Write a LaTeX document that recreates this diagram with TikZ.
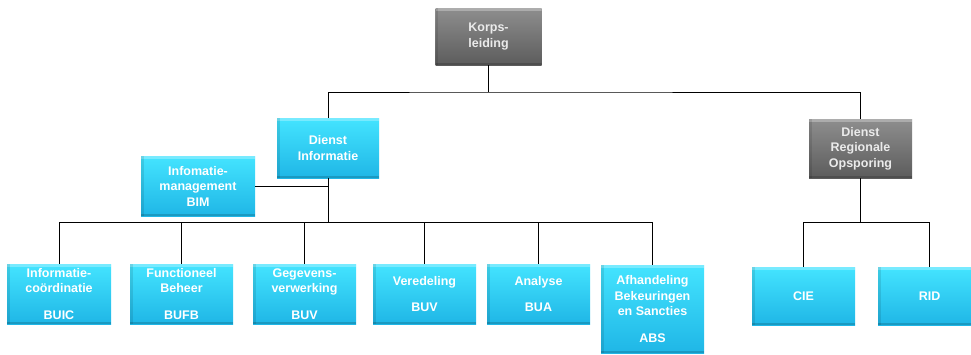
\documentclass[tikz,border=0pt]{standalone}
\usepackage{fontspec}
\setmainfont{Liberation Sans}
\begin{document}
\definecolor{cyantop}{HTML}{44E4FF}
\definecolor{cyanbot}{HTML}{1FB6E6}
\definecolor{greytop}{HTML}{8E8E8E}
\definecolor{greybot}{HTML}{5C5C5C}
\begin{tikzpicture}[x=1pt,y=-1pt,
  box/.style={rectangle, inner sep=0pt, minimum width=103pt, minimum height=60pt,
    align=center, text=white, font=\bfseries\fontsize{12.5}{15.5}\selectfont,
    path picture={
      \fill[white,opacity=0.28] (path picture bounding box.north west) rectangle ([yshift=-3pt]path picture bounding box.north east);
      \fill[black,opacity=0.10] (path picture bounding box.north west) rectangle ([xshift=2.5pt]path picture bounding box.south west);
      \fill[black,opacity=0.16] (path picture bounding box.south west) rectangle ([yshift=2.5pt]path picture bounding box.south east);
    }},
  bluebox/.style={box, top color=cyantop, bottom color=cyanbot},
  greybox/.style={box, top color=greytop, bottom color=greybot, text=white!92!black},
  link/.style={draw=black, line width=1pt}]
\useasboundingbox (0,0) rectangle (971,354);

% top of the hierarchy
\node[greybox, minimum width=106pt, minimum height=57pt] (kl) at (488.5,36.5) {Korps-\\leiding};

% second level
\node[bluebox, minimum width=102pt] (di) at (328,148) {Dienst\\Informatie};
\node[greybox, minimum height=59pt] (dro) at (860.5,148.5) {Dienst\\Regionale\\Opsporing};
\node[bluebox, minimum width=114pt] (bim) at (198,186) {Infomatie-\\management\\BIM};

% departments of Dienst Informatie
\node[bluebox, minimum width=104pt] (b1) at (59,294) {Informatie-\\coördinatie\\[11pt]BUIC};
\node[bluebox] (b2) at (181.5,294) {Functioneel\\Beheer\\[11pt]BUFB};
\node[bluebox] (b3) at (304.5,294) {Gegevens-\\verwerking\\[11pt]BUV};
\node[bluebox] (b4) at (424.5,294) {Veredeling\\[11pt]BUV};
\node[bluebox] (b5) at (538.5,294) {Analyse\\[11pt]BUA};
\node[bluebox, minimum height=88pt] (b6) at (652.5,309) {Afhandeling\\Bekeuringen\\en Sancties\\[11pt]ABS};

% departments of Dienst Regionale Opsporing
\node[bluebox, minimum height=58pt] (cie) at (803.5,296) {CIE};
\node[bluebox, minimum height=58pt] (rid) at (929.5,296) {RID};

% junction heights
\coordinate (top) at (488.5,92);
\coordinate (mid) at (328,222);
\coordinate (right) at (860.5,222);

% connectors
\draw[link] (kl.south) -- (top);
\draw[link] (di.north) |- (top) -| (dro.north);
\draw[link] (di.south) -- (mid);
\draw[link] (bim.east) -- (bim.east -| di.south);
\draw[link] (b1.north) |- (b6.north |- mid) -- (b6.north);
\foreach \n in {b2,b3,b4,b5} \draw[link] (\n.north) -- (\n.north |- mid);
\draw[link] (dro.south) -- (right);
\draw[link] (cie.north) |- (rid.north |- right) -- (rid.north);
\end{tikzpicture}
\end{document}
